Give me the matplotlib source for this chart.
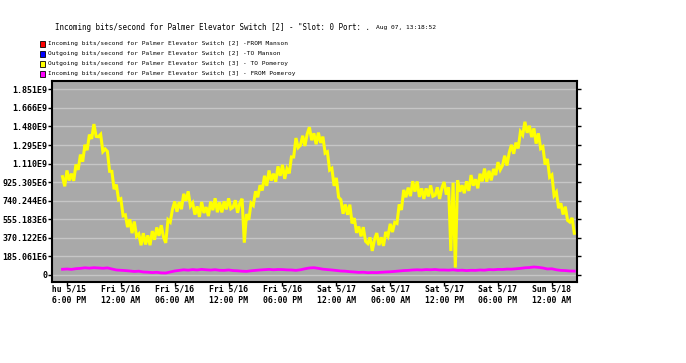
import matplotlib
matplotlib.use("Agg")
import matplotlib.pyplot as plt
import numpy as np
import pandas as pd
from matplotlib.patches import Rectangle
from matplotlib.transforms import Bbox, TransformedBbox

# Outgoing [3] - TO Pomeroy, Mbit/s, one reading every 15 min from Thu 5/15 17:30
to_pomeroy = [
    980, 884, 1042, 941, 1010, 938, 1101, 1048, 1200, 1129, 1298, 1244, 1399, 1357,
    1504, 1381, 1378, 1402, 1230, 1256, 1232, 1033, 1033, 855, 901, 748, 760, 590,
    599, 477, 555, 417, 533, 386, 409, 296, 417, 304, 395, 297, 438, 351, 474, 390,
    496, 378, 320, 550, 527, 655, 733, 630, 727, 656, 809, 739, 834, 687, 719, 602,
    684, 579, 728, 618, 677, 587, 731, 646, 765, 625, 725, 624, 733, 654, 764, 660,
    675, 745, 620, 715, 760, 322, 607, 549, 716, 693, 834, 775, 895, 842, 989, 888,
    1042, 941, 1010, 929, 1083, 988, 1098, 958, 1058, 1013, 1177, 1176, 1365, 1270,
    1294, 1388, 1286, 1405, 1473, 1343, 1412, 1303, 1419, 1317, 1379, 1214, 1228, 1046,
    1063, 888, 968, 775, 751, 610, 703, 600, 701, 514, 567, 420, 483, 385, 477, 336,
    314, 375, 240, 354, 418, 297, 376, 290, 429, 387, 510, 428, 525, 514, 703, 648,
    848, 775, 871, 786, 935, 831, 932, 778, 863, 758, 863, 783, 893, 784, 795, 874,
    758, 868, 927, 801, 875, 239, 920, 74, 945, 830, 895, 815, 934, 838, 996, 890,
    954, 864, 1009, 933, 1061, 930, 1039, 943, 1057, 996, 1125, 1048, 1091, 1189, 1091, 1219,
    1297, 1208, 1319, 1261, 1428, 1395, 1527, 1417, 1487, 1374, 1461, 1309, 1412, 1260,
    1278, 1100, 1157, 975, 997, 792, 826, 666, 715, 603, 681, 544, 527, 569, 416,
]

# Incoming [3] - FROM Pomeroy, Mbit/s, one reading every 30 min from Thu 5/15 17:30
from_pomeroy = [
    57, 60, 56, 63, 66, 72, 68, 73, 70, 67, 71, 60, 50, 47, 44, 40, 35, 38, 30, 28,
    24, 27, 21, 20, 30, 40, 46, 52, 48, 54, 50, 56, 52, 49, 53, 47, 46, 50, 44, 42,
    38, 36, 42, 46, 50, 53, 56, 52, 55, 54, 51, 50, 46, 52, 62, 70, 73, 66, 58, 54,
    50, 45, 40, 38, 33, 30, 26, 28, 23, 25, 24, 27, 30, 32, 36, 40, 44, 46, 50, 52,
    50, 54, 52, 55, 50, 50, 48, 52, 46, 48, 44, 47, 46, 50, 48, 54, 52, 56, 55, 59,
    58, 62, 66, 72, 74, 80, 76, 70, 60, 62, 52, 46, 44, 40, 39,
]

legend_labels = [
    "Incoming bits/second for Palmer Elevator Switch [2] -FROM Manson",
    "Outgoing bits/second for Palmer Elevator Switch [2] -TO Manson",
    "Outgoing bits/second for Palmer Elevator Switch [3] - TO Pomeroy",
    "Incoming bits/second for Palmer Elevator Switch [3] - FROM Pomeroy",
]
legend_colors = ["#ff0000", "#0000ff", "#ffff00", "#ff00ff"]

ytick_labels = ["0", "185.061E6", "370.122E6", "555.183E6", "740.244E6", "925.305E6",
                "1.110E9", "1.295E9", "1.480E9", "1.666E9", "1.851E9"]
ytick_step = 185.061e6

xtick_times = pd.date_range("2008-05-15 18:00", periods=10, freq="6h")

t_yellow = pd.date_range("2008-05-15 17:30", periods=len(to_pomeroy), freq="15min")
t_magenta = pd.date_range("2008-05-15 17:30", periods=len(from_pomeroy), freq="30min")

mono = "DejaVu Sans Mono"
W, H = 686, 363
fig = plt.figure(figsize=(W / 100, H / 100), dpi=100)
fig.patch.set_facecolor("white")

ax_l, ax_r, ax_t, ax_b = 52, 577, 81, 282
ax = fig.add_axes([ax_l / W, 1 - ax_b / H, (ax_r - ax_l) / W, (ax_b - ax_t) / H])
ax.set_facecolor("#a9a9a9")

ax.plot(t_yellow, np.array(to_pomeroy) * 1e6, color="#ffff00", lw=2.2,
        solid_joinstyle="miter", zorder=3)
ax.plot(t_magenta, np.array(from_pomeroy) * 1e6, color="#ff00ff", lw=2.0, zorder=4)

yticks = np.arange(len(ytick_labels)) * ytick_step
ax.set_yticks(yticks)
ax.set_yticklabels(ytick_labels, family=mono, fontsize=6, fontweight="bold")
ax.set_ylim(-0.377 * ytick_step, 10.447 * ytick_step)
ax.yaxis.grid(True, color="#c6c6c6", lw=1.0)
ax.set_axisbelow(True)

ax.set_xticks(xtick_times)
ax.set_xticklabels([f"{d:%a} {d.month}/{d.day}\n{d:%I:%M %p}" for d in xtick_times],
                   family=mono, fontsize=5.9, fontweight="bold", linespacing=1.25)
ax.set_xlim(pd.Timestamp("2008-05-15 16:20"), pd.Timestamp("2008-05-18 02:48"))

ax.tick_params(axis="y", left=True, right=True, direction="out", length=3, width=1, pad=0.5)
ax.tick_params(axis="x", direction="out", length=3, width=1, pad=-1)
for s in ax.spines.values():
    s.set_color("black")
    s.set_linewidth(1.5)

# first time label is cut at the left edge of the plot
clip = TransformedBbox(Bbox([[ax_l / W, 0], [1, 1]]), fig.transFigure)
first = ax.get_xticklabels()[0]
first.set_clip_box(clip)
first.set_clip_on(True)

fig.text(55 / W, 1 - 27 / H,
         'Incoming bits/second for Palmer Elevator Switch [2] - "Slot: 0 Port: .',
         family=mono, fontsize=5.45, va="center", ha="left")
fig.text(376 / W, 1 - 28 / H, "Aug 07, 13:18:52", family=mono, fontsize=4.5,
         va="center", ha="left")

for i, (lab, col) in enumerate(zip(legend_labels, legend_colors)):
    yc = 44 + 10 * i
    fig.add_artist(Rectangle((40 / W, 1 - (yc + 3) / H), 5 / W, 6 / H,
                             transform=fig.transFigure, facecolor=col,
                             edgecolor="black", lw=0.6))
    fig.text(48 / W, 1 - yc / H, lab, family=mono, fontsize=4.45, va="center", ha="left")

fig.savefig("out.png", dpi=100)
